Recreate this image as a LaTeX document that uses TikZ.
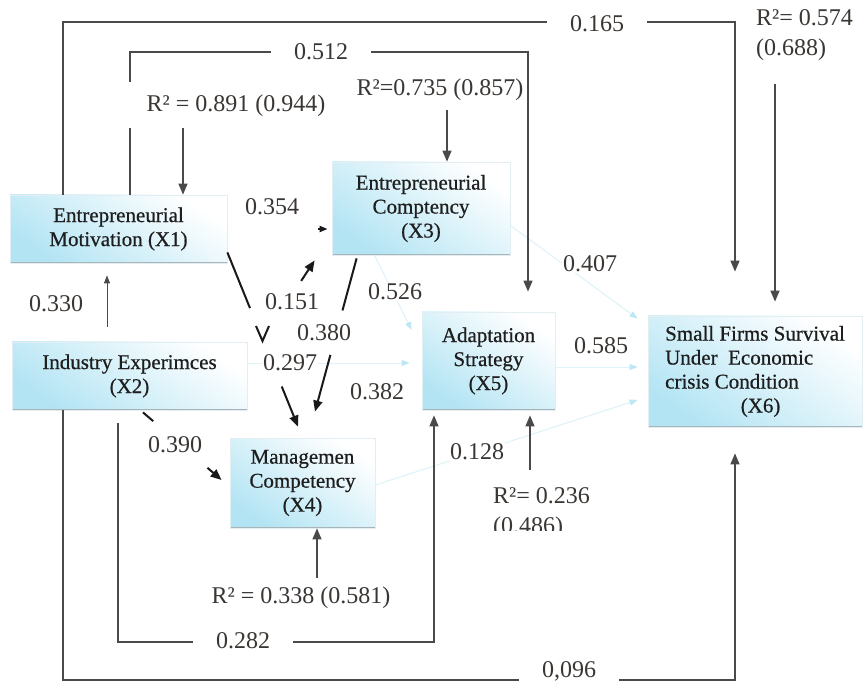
\documentclass[tikz,border=0pt]{standalone}
\usepackage{fontspec}
\setmainfont{Liberation Serif}
\newfontfamily\boxfont{Liberation Serif}[FakeBold=0.6]
\usetikzlibrary{arrows.meta,calc}
\definecolor{boxblue}{HTML}{B3E4F4}
\definecolor{boxedge}{HTML}{E2EEF2}
\definecolor{bottomedge}{HTML}{A9B4B8}
\definecolor{txt}{HTML}{1E1E1E}
\definecolor{lbltxt}{HTML}{3A3633}
\definecolor{faintblue}{HTML}{DDF2F9}
\definecolor{fainttip}{HTML}{BDE7F5}
\definecolor{framecol}{HTML}{4A4A4A}
\tikzset{
  box/.style={rectangle, draw=boxedge, line width=0.8pt, top color=white, bottom color=boxblue,
    shading angle=-35, align=center, inner sep=2pt, font=\boxfont\fontsize{21}{24}\selectfont, text=txt,
    path picture={\draw[draw=bottomedge, line width=2.4pt] (path picture bounding box.south west) -- (path picture bounding box.south east);}},
  arr/.style={-{Triangle[length=11pt,width=9pt]}},
  sarr/.style={-{Triangle[length=8pt,width=6pt]}},
  farr/.style={-{Triangle[length=8pt,width=6pt,color=fainttip]}},
  frame/.style={draw=framecol, line width=1.4pt},
  thinframe/.style={draw=framecol, line width=0.9pt},
  heavy/.style={draw=black!90, line width=2pt},
  faint/.style={draw=faintblue, line width=1pt},
  lbl/.style={font=\fontsize{24}{30}\selectfont, text=lbltxt, inner sep=1pt},
  wl/.style={lbl, fill=white},
  onl/.style={lbl, fill=white, minimum width=100pt},
}
\begin{document}
\begin{tikzpicture}[x=1pt,y=-1pt]
\useasboundingbox[fill=white] (0,0) rectangle (867,684);

% ---------- nodes ----------
\node[box, minimum width=217pt, minimum height=68pt] (x1) at (118.5,229) {Entrepreneurial\\Motivation (X1)};
\node[box, minimum width=178pt, minimum height=93pt] (x3) at (421,208.5) {Entrepreneurial\\Comptency\\(X3)};
\node[box, minimum width=235pt, minimum height=68pt] (x2) at (129.5,376) {Industry Experimces\\(X2)};
\node[box, minimum width=145pt, minimum height=90pt] (x4) at (302.5,483) {Managemen\\Competency\\(X4)};
\node[box, minimum width=133pt, minimum height=98pt] (x5) at (488.5,361) {Adaptation\\Strategy\\(X5)};
\node[box, minimum width=214pt, minimum height=111pt, align=left] (x6) at (755,371.5) {Small Firms Survival\\Under\ \ Economic\\crisis Condition\\\hspace*{3.6em}(X6)};

% ---------- faint connectors ----------
\draw[faint, farr] ($(x3.south west)+(43,0)$) -- ($(x5.west)+(-10,-31)$);
\draw[faint, farr] ($(x2.east)+(0,-13)$) -- ($(x5.west)+(-12,2)$);
\draw[faint, farr] ($(x3.east)+(0,17)$) -- ($(x6.north west)+(-10,3)$);
\draw[faint, farr] ($(x5.east)+(0,6)$) -- ($(x6.west)+(-10,-4.5)$);
\draw[faint, farr] ($(x4.east)+(0,2)$) -- ($(x6.west)+(-10,28.5)$);

% ---------- frame connectors ----------
\coordinate (a165) at (63,22);
\coordinate (b165) at (735,22);
\draw[frame, arr, shorten >=44pt] (x1.north -| a165) -- (a165) -- (b165) -- (x6.north -| b165);

\coordinate (a512) at (130,52);
\coordinate (b512) at (528,52);
\coordinate (g512a) at (130,128);
\coordinate (g512b) at (130,82);
\draw[frame] (x1.north -| a512) -- (g512a);
\draw[frame, arr, shorten >=20pt] (g512b) -- (a512) -- (b512) -- (x5.north -| b512);

\coordinate (a282) at (118,642);
\coordinate (b282) at (434,642);
\draw[frame, arr, shorten <=13pt, shorten >=5pt] (x2.south -| a282) -- (a282) -- (b282) -- (x5.south -| b282);

\coordinate (a096) at (63,680);
\coordinate (b096) at (735,680);
\draw[frame, arr, shorten >=26pt] (x2.south -| a096) -- (a096) -- (b096) -- (x6.south -| b096);

\coordinate (c330) at (107,300);
\draw[thinframe, sarr, shorten <=15pt, shorten >=12pt] (x2.north -| c330) -- (x1.south -| c330);

% ---------- R^2 labels and arrows ----------
\node[lbl] (r1) at (236,106) {R² = 0.891 (0.944)};
\node[lbl] (r3) at (440,90) {R²=0.735 (0.857)};
\node[lbl, align=left, anchor=north west] (r6) at (755,8) {R²= 0.574\\(0.688)};
\node[lbl] (r4) at (301,598) {R² = 0.338 (0.581)};
\begin{scope}
\clip (480,470) rectangle (640,530);
\node[lbl, align=left, anchor=north west] (r5) at (492,486) {R²= 0.236\\(0.486)};
\end{scope}

\coordinate (r1s) at (183,128);
\draw[frame, arr] (r1s) -- (x1.north -| r1s);
\coordinate (r3s) at (447,110);
\draw[frame, arr] (r3s) -- (x3.north -| r3s);
\coordinate (r6s) at (775,84);
\draw[frame, arr, shorten >=14pt] (r6s) -- (x6.north -| r6s);
\coordinate (r5s) at (530,470);
\draw[frame, arr, shorten >=5pt] (r5s) -- (x5.south -| r5s);
\coordinate (r4s) at (317,578);
\draw[frame, arr] (r4s) -- (x4.south -| r4s);

% ---------- heavy black connectors ----------
% X1 -> X4
\coordinate (p14a) at ($(x1.south east)+(0,-11)$);
\coordinate (p14b) at ($(x4.north)+(-4.5,-11)$);
\draw[heavy] (p14a) -- ($(p14a)!0.32!(p14b)$);
\draw[heavy, arr] ($(p14a)!0.77!(p14b)$) -- (p14b);
\draw[heavy, line width=2pt, line join=miter] (256,326) -- (262.5,341) -- (269,326);
% X3 -> X4
\coordinate (p34a) at ($(x3.south west)+(25,3)$);
\coordinate (p34b) at ($(x4.north)+(12.5,-26)$);
\draw[heavy] (p34a) -- ($(p34a)!0.34!(p34b)$);
\draw[heavy, arr] ($(p34a)!0.63!(p34b)$) -- (p34b);
% X2 -> X4
\coordinate (p24a) at ($(x2.south)+(13.5,2)$);
\coordinate (p24b) at ($(x4.west)+(-8,-3)$);
\draw[heavy] (p24a) -- ($(p24a)!0.13!(p24b)$);
\draw[heavy, arr] ($(p24a)!0.82!(p24b)$) -- (p24b);
% X2 -> X3
\coordinate (p23a) at ($(x2.east)+(0,-13)$);
\coordinate (p23b) at ($(x3.south west)+(-17,5)$);
\draw[heavy, arr] ($(p23a)!0.8!(p23b)$) -- (p23b);
% X1 -> X3
\coordinate (p13a) at (x1.east);
\coordinate (p13b) at ($(x3.west)+(-4,20.5)$);
\draw[heavy, sarr] ($(p13a)!0.9!(p13b)$) -- (p13b);

% ---------- coefficient labels ----------
\node[onl] (l165) at (597,24) {0.165};
\node[onl] (l512) at (321,52) {0.512};
\node[onl] (l282) at (243,641) {0.282};
\node[onl, minimum height=24pt, anchor=south] (l096) at (569,684) {0,096};
\node[wl] (l354) at (272,207) {0.354};
\node[wl] (l407) at (590,264) {0.407};
\node[wl] (l330) at (56,304) {0.330};
\node[wl] (l151) at (292,302) {0.151};
\node[wl] (l526) at (395,292) {0.526};
\node[wl] (l380) at (324,333) {0.380};
\node[wl] (l297) at (290,363) {0.297};
\node[wl] (l585) at (601,346) {0.585};
\node[wl] (l382) at (377,392) {0.382};
\node[wl] (l390) at (175,445) {0.390};
\node[wl] (l128) at (477,452) {0.128};
\end{tikzpicture}
\end{document}
